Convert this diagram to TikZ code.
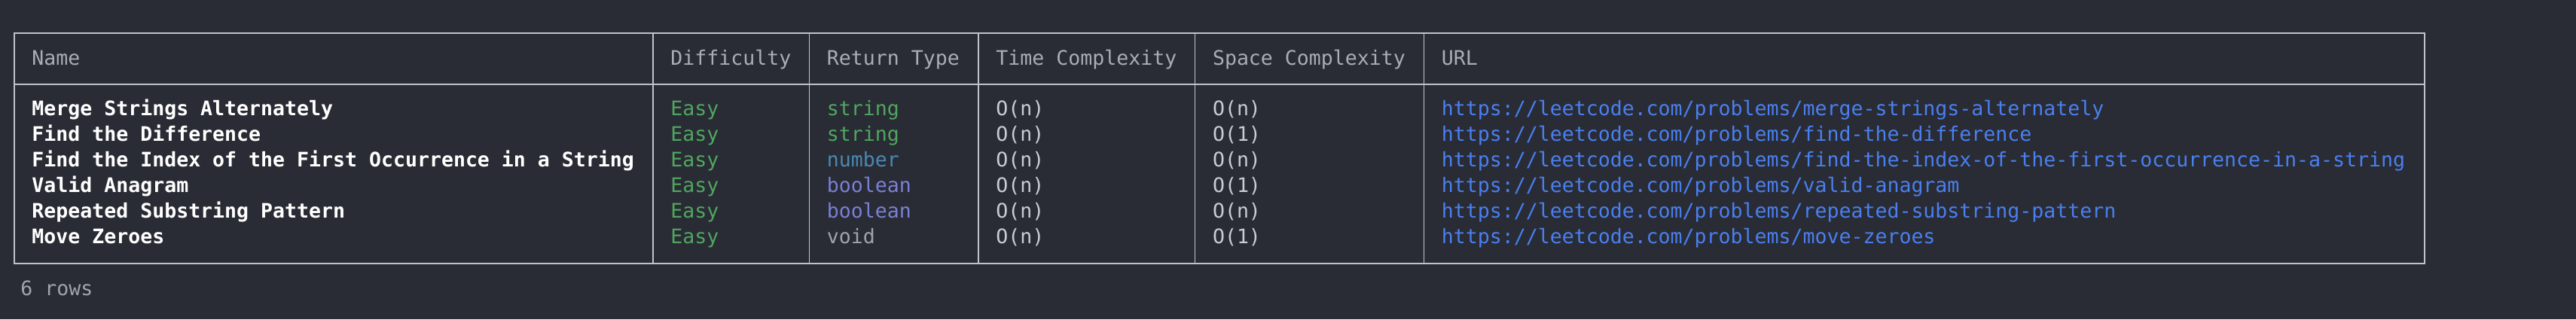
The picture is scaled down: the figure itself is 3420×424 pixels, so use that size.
\documentclass[tikz,border=0pt]{standalone}
\usepackage{fontspec}
\setmonofont{DejaVu Sans Mono}
\definecolor{bgdark}{RGB}{41,44,52}
\definecolor{rulegray}{RGB}{192,195,204}
\definecolor{headgray}{RGB}{168,173,183}
\definecolor{cellgray}{RGB}{200,204,212}
\definecolor{easygreen}{RGB}{80,166,96}
\definecolor{numteal}{RGB}{74,136,178}
\definecolor{boolviolet}{RGB}{122,128,214}
\definecolor{voidgray}{RGB}{160,164,173}
\definecolor{urlblue}{RGB}{74,127,240}

\begin{document}
\begin{tikzpicture}[x=0.5pt, y=-0.5pt,
    cell/.style={anchor=base west, inner sep=0pt, font=\ttfamily\fontsize{13.28}{15}\selectfont},
    headcell/.style={cell, color=headgray},
    namecell/.style={cell, color=white, font=\ttfamily\bfseries\fontsize{13.28}{15}\selectfont},
    outerrule/.style={draw=rulegray, line width=1pt},
    colrule/.style={draw=rulegray, line width=0.6pt}]
    % Background and frame of the table.
    \fill[bgdark] (0, 0) rectangle (3420, 424);
    \coordinate (tl) at (19, 44);
    \coordinate (br) at (3219, 350);
    \draw[outerrule] (tl) rectangle (br);
    \draw[outerrule] (19, 111.7) -- (3219, 111.7);
    \foreach \sx in {867, 1074.5, 1299, 1586.6, 1890.5}
        \draw[colrule] (\sx, 44) -- (\sx, 350);
    % Header row.
    \node[headcell] (hname) at (42, 86.7) {Name};
    \node[headcell] (hdiff) at (890, 86.7) {Difficulty};
    \node[headcell] (htype) at (1097.5, 86.7) {Return Type};
    \node[headcell] (htime) at (1322, 86.7) {Time Complexity};
    \node[headcell] (hspace) at (1609.6, 86.7) {Space Complexity};
    \node[headcell] (hurl) at (1913.5, 86.7) {URL};
    % Data rows.
    \foreach \n/\title/\rtype/\rcol/\tc/\sc/\slug in {
        0/Merge Strings Alternately/string/easygreen/O(n)/O(n)/merge-strings-alternately,
        1/Find the Difference/string/easygreen/O(n)/O(1)/find-the-difference,
        2/Find the Index of the First Occurrence in a String/number/numteal/O(n)/O(n)/find-the-index-of-the-first-occurrence-in-a-string,
        3/Valid Anagram/boolean/boolviolet/O(n)/O(1)/valid-anagram,
        4/Repeated Substring Pattern/boolean/boolviolet/O(n)/O(n)/repeated-substring-pattern,
        5/Move Zeroes/void/voidgray/O(n)/O(1)/move-zeroes}{
        \pgfmathsetmacro{\by}{153.3 + 34*\n}
        \node[namecell] (name\n) at (42, \by) {\title};
        \node[cell, color=easygreen] (diff\n) at (890, \by) {Easy};
        \node[cell, color=\rcol] (type\n) at (1097.5, \by) {\rtype};
        \node[cell, color=cellgray] (time\n) at (1322, \by) {\tc};
        \node[cell, color=cellgray] (space\n) at (1609.6, \by) {\sc};
        \node[cell, color=urlblue] (url\n) at (1913.5, \by) {https://leetcode.com/problems/\slug};
    }
    % Row count under the table.
    \node[cell, color=voidgray] (rowcount) at (27, 392) {6 rows};
\end{tikzpicture}
\end{document}
